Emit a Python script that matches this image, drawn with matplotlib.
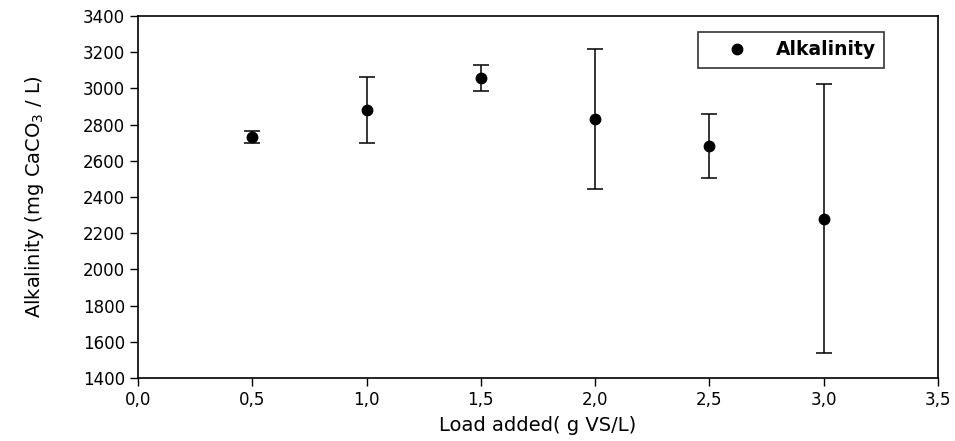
import matplotlib
matplotlib.use("Agg")
from matplotlib import pyplot as plt
from matplotlib.lines import Line2D

load = [0.5, 1.0, 1.5, 2.0, 2.5, 3.0]
alkalinity = [2730, 2881, 3055, 2830, 2683, 2280]
std_dev = [34, 181, 72, 388, 176, 743]

x_ticks = [0.0, 0.5, 1.0, 1.5, 2.0, 2.5, 3.0, 3.5]
x_tick_labels = ['0,0', '0,5', '1,0', '1,5', '2,0', '2,5', '3,0', '3,5']
y_ticks = [1400, 1600, 1800, 2000, 2200, 2400, 2600, 2800, 3000, 3200, 3400]

plt.rcParams['font.family'] = ['DejaVu Sans']

fig = plt.figure(figsize=(9.55, 4.41), dpi=100)
ax = fig.add_axes([0.1445, 0.1429, 0.8377, 0.8209])

ax.errorbar(load, alkalinity, yerr=std_dev, fmt='o', markersize=7.5, color='black',
            ecolor='black', elinewidth=1.1, capsize=6, capthick=1.1)

ax.set_xlim(0, 3.5)
ax.set_ylim(1400, 3400)
ax.set_xticks(x_ticks)
ax.set_xticklabels(x_tick_labels)
ax.set_yticks(y_ticks)
ax.tick_params(direction='out', length=6, width=1, labelsize=12)
for s in ax.spines.values():
    s.set_linewidth(1.2)

ax.set_xlabel('Load added( g VS/L)', fontsize=14, labelpad=5)
ax.set_ylabel('Alkalinity (mg CaCO$_3$ / L)', fontsize=14, labelpad=26)

# legend shows only the dot
proxy = Line2D([], [], linestyle='none', marker='o', markersize=7.5, color='black')
leg = ax.legend([proxy], ['Alkalinity'], loc='upper left', bbox_to_anchor=(0.70, 0.956),
                frameon=True, fancybox=False, edgecolor='black', handlelength=3.25,
                handletextpad=0.45, borderpad=0.45, borderaxespad=0,
                prop={'weight': 'bold', 'size': 13.5})
leg.get_frame().set_linewidth(1.2)

fig.savefig('out.png', dpi=100)
